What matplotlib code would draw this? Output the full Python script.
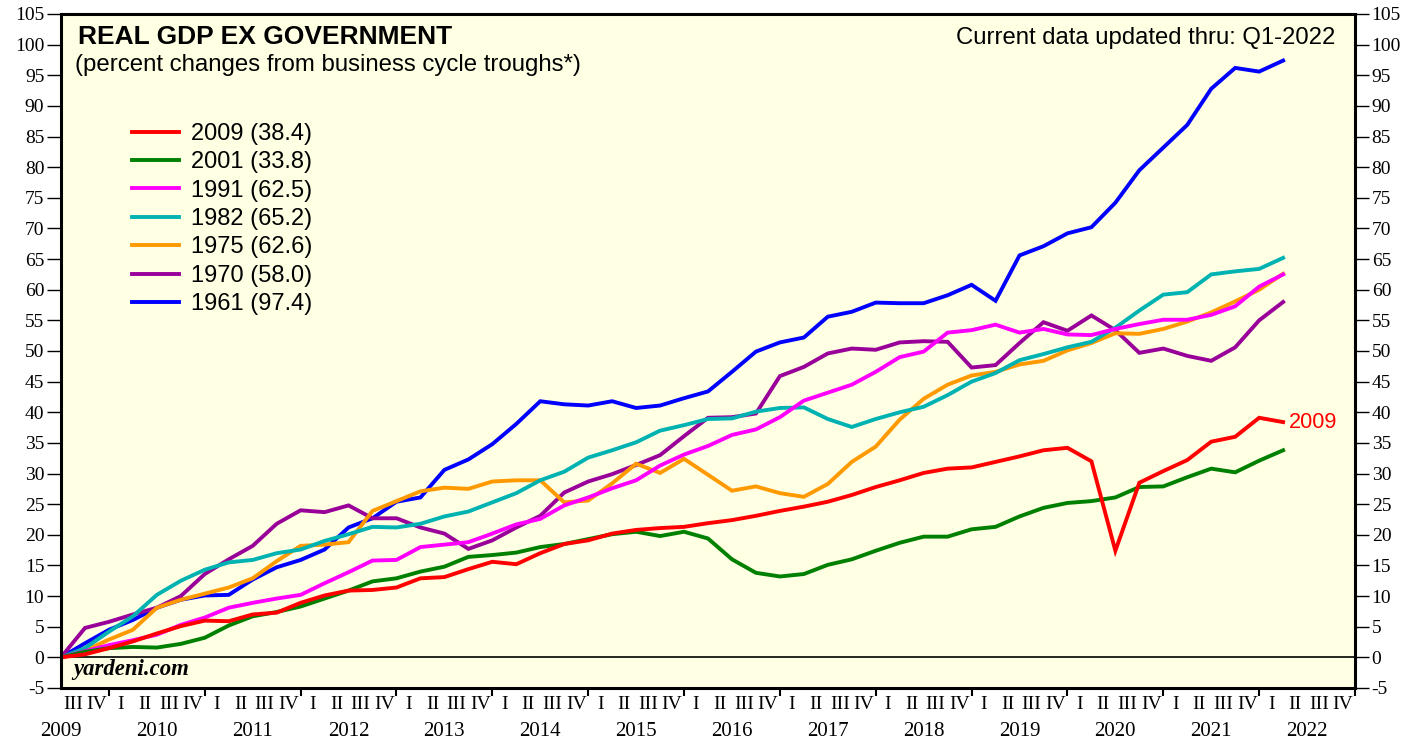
import numpy as np
import matplotlib
matplotlib.use('Agg')
import matplotlib.pyplot as plt

# Quarters since each business cycle trough (0 = trough quarter), thru Q1-2022 for 2009 cycle
quarters = np.arange(52)

gdp_2009 = [0, 0.5, 1.5, 2.6, 3.9, 5.1, 6.0, 5.9, 7.0, 7.3,
            8.9, 10.1, 10.9, 11.0, 11.4, 12.9, 13.1, 14.4, 15.6, 15.2,
            17.0, 18.5, 19.1, 20.2, 20.8, 21.1, 21.3, 21.9, 22.4, 23.1,
            23.9, 24.6, 25.4, 26.5, 27.8, 28.9, 30.1, 30.8, 31.0, 31.9,
            32.8, 33.8, 34.2, 32.0, 17.4, 28.5, 30.4, 32.2, 35.2, 36.0,
            39.1, 38.4]
gdp_2001 = [0, 0.9, 1.5, 1.7, 1.6, 2.2, 3.2, 5.2, 6.7, 7.4,
            8.3, 9.6, 10.9, 12.4, 12.9, 14.0, 14.8, 16.4, 16.7, 17.1,
            18.0, 18.5, 19.3, 20.1, 20.5, 19.8, 20.5, 19.4, 16.0, 13.8,
            13.2, 13.6, 15.1, 16.0, 17.4, 18.7, 19.7, 19.7, 20.9, 21.3,
            23.0, 24.4, 25.2, 25.5, 26.1, 27.8, 27.9, 29.4, 30.8, 30.2,
            32.1, 33.8]
gdp_1991 = [0, 1.0, 2.0, 2.8, 3.7, 5.3, 6.5, 8.1, 8.9, 9.6,
            10.2, 12.1, 13.9, 15.8, 15.9, 18.0, 18.4, 18.8, 20.2, 21.7,
            22.6, 24.8, 26.1, 27.6, 28.9, 31.3, 33.1, 34.5, 36.3, 37.2,
            39.2, 41.9, 43.2, 44.5, 46.6, 49.0, 49.9, 53.0, 53.4, 54.3,
            53.0, 53.6, 52.7, 52.6, 53.6, 54.4, 55.1, 55.1, 55.9, 57.3,
            60.5, 62.5]
gdp_1982 = [0, 1.5, 4.2, 6.7, 10.2, 12.5, 14.3, 15.5, 15.9, 17.0,
            17.6, 19.0, 20.1, 21.3, 21.2, 21.8, 23.0, 23.8, 25.3, 26.8,
            28.9, 30.3, 32.6, 33.8, 35.1, 37.0, 37.9, 38.9, 39.0, 40.1,
            40.7, 40.8, 38.9, 37.6, 38.9, 40.0, 40.9, 42.8, 45.0, 46.4,
            48.5, 49.5, 50.6, 51.5, 53.8, 56.6, 59.2, 59.6, 62.5, 63.0,
            63.4, 65.2]
gdp_1975 = [0, 1.1, 2.9, 4.5, 8.1, 9.4, 10.4, 11.4, 12.9, 15.7,
            18.2, 18.4, 18.8, 23.9, 25.5, 27.1, 27.7, 27.5, 28.7, 28.9,
            28.9, 25.3, 25.6, 28.4, 31.6, 30.1, 32.4, 29.8, 27.2, 27.9,
            26.8, 26.2, 28.3, 31.9, 34.4, 38.8, 42.2, 44.5, 46.0, 46.6,
            47.8, 48.4, 50.1, 51.3, 52.9, 52.8, 53.6, 54.8, 56.3, 58.1,
            60.0, 62.6]
gdp_1970 = [0, 4.8, 5.8, 7.0, 8.1, 10.0, 13.6, 16.0, 18.2, 21.8,
            24.0, 23.7, 24.8, 22.7, 22.7, 21.2, 20.2, 17.7, 19.1, 21.2,
            23.1, 26.9, 28.7, 29.9, 31.4, 33.0, 36.1, 39.1, 39.2, 39.8,
            45.9, 47.4, 49.6, 50.4, 50.2, 51.4, 51.6, 51.5, 47.3, 47.7,
            51.3, 54.7, 53.3, 55.8, 53.4, 49.7, 50.4, 49.2, 48.4, 50.6,
            55.0, 58.0]
gdp_1961 = [0, 2.3, 4.5, 6.1, 8.1, 9.4, 10.1, 10.2, 12.7, 14.7,
            15.9, 17.6, 21.2, 22.7, 25.4, 26.1, 30.6, 32.3, 34.8, 38.1,
            41.8, 41.3, 41.1, 41.8, 40.7, 41.1, 42.3, 43.4, 46.6, 49.9,
            51.4, 52.2, 55.6, 56.4, 57.9, 57.8, 57.8, 59.1, 60.8, 58.2,
            65.6, 67.1, 69.2, 70.2, 74.2, 79.5, 83.2, 86.9, 92.8, 96.2,
            95.6, 97.4]

labels = ['2009 (38.4)', '2001 (33.8)', '1991 (62.5)', '1982 (65.2)',
          '1975 (62.6)', '1970 (58.0)', '1961 (97.4)']
colors = ['#FF0000', '#008000', '#FF00FF', '#00B2B2', '#FF9900', '#990099', '#0000FF']
all_series = [gdp_2009, gdp_2001, gdp_1991, gdp_1982, gdp_1975, gdp_1970, gdp_1961]

years = list(range(2009, 2023))
roman = ['I', 'II', 'III', 'IV']

plt.rcParams['font.family'] = 'Liberation Serif'
plt.rcParams['axes.unicode_minus'] = False
sans = 'Liberation Sans'

fig = plt.figure(figsize=(14.27, 7.42), dpi=100)
ax = fig.add_axes([61 / 1427, 1 - 688 / 742, 1294 / 1427, 674 / 742])
ax.set_facecolor('#FFFFE3')

# draw oldest cycle first so 2009 ends up on top
handles = []
for lab, col, vals in zip(labels[::-1], colors[::-1], all_series[::-1]):
    h, = ax.plot(quarters, vals, color=col, lw=2.8, label=lab, solid_joinstyle='miter')
    handles.append(h)
handles = handles[::-1]

ax.axhline(0, color='black', lw=1.2, zorder=1)

ax.set_xlim(0, 54)
ax.set_ylim(-5, 105)

# y axis on both sides
ax.set_yticks(np.arange(-5, 106, 5))
ax.tick_params(axis='y', which='major', direction='out', length=10, width=1,
               labelsize=14, pad=2, left=True, right=True, labelleft=True, labelright=True)

# x axis: year boundaries as ticks, quarters and years as text
ax.set_xticks(np.arange(2, 55, 4))
ax.set_xticklabels([])
ax.tick_params(axis='x', which='major', direction='out', length=6, width=1.5)
trans = ax.get_xaxis_transform()
for k in range(54):
    ax.text(k + 0.5, -0.025, roman[(k + 2) % 4], transform=trans,
            ha='center', va='center', fontsize=14)
for j, yr in enumerate(years):
    ax.text(4 * j, -0.064, str(yr), transform=trans,
            ha='center', va='center', fontsize=15)

for sp in ax.spines.values():
    sp.set_linewidth(2.2)

# titles
ax.text(0.0131, 0.956, 'REAL GDP EX GOVERNMENT', transform=ax.transAxes,
        family=sans, fontweight='bold', fontsize=19, va='baseline', ha='left')
ax.text(0.0108, 0.915, '(percent changes from business cycle troughs*)', transform=ax.transAxes,
        family=sans, fontsize=17.3, va='baseline', ha='left')
ax.text(0.9845, 0.956, 'Current data updated thru: Q1-2022', transform=ax.transAxes,
        family=sans, fontsize=17.2, va='baseline', ha='right')
ax.text(0.0093, 0.028, 'yardeni.com', transform=ax.transAxes,
        fontweight='bold', style='italic', fontsize=16.4, va='center', ha='left')

# end label for the 2009 cycle
ax.annotate('2009', xy=(quarters[-1], gdp_2009[-1]), xytext=(4, 0),
            textcoords='offset points', color='#FF0000', family=sans,
            fontsize=15.6, va='center', ha='left')

leg = ax.legend(handles=handles, loc='upper left',
                bbox_to_anchor=(132 / 1427, 1 - 123 / 742), bbox_transform=fig.transFigure,
                frameon=False, prop={'family': sans, 'size': 17},
                handlelength=2.0, handletextpad=0.5, labelspacing=0.27,
                borderpad=0, borderaxespad=0)

fig.savefig('out.png', dpi=100)
